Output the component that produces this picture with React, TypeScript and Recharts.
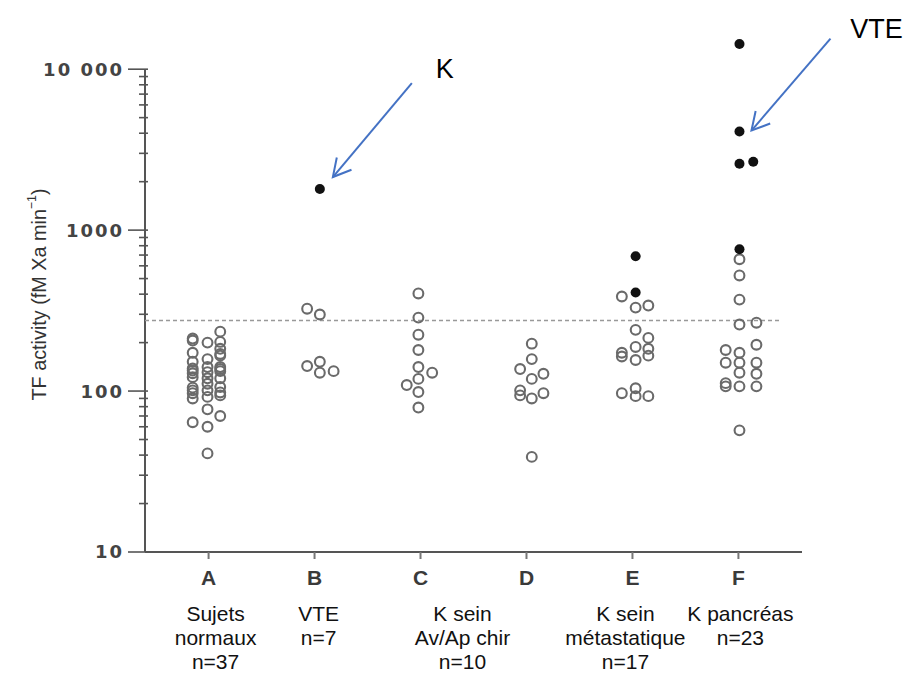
import React from 'react';
import { ScatterChart, Scatter, XAxis, YAxis, ReferenceLine, ReferenceDot } from 'recharts';

const letters = ['A', 'B', 'C', 'D', 'E', 'F'];
const groupLabels = [
  ['Sujets', 'normaux', 'n=37'],
  ['VTE', 'n=7'],
  ['K sein', 'Av/Ap chir', 'n=10'],
  [],
  ['K sein', 'métastatique', 'n=17'],
  ['K pancréas', 'n=23'],
];

// [jitter offset, value] per group
const openA = [
  [-0.15, 212], [-0.15, 206], [-0.15, 173], [-0.15, 152], [-0.15, 138], [-0.15, 134], [-0.15, 129],
  [-0.15, 122], [-0.15, 105], [-0.15, 101], [-0.15, 97], [-0.15, 90], [-0.15, 64],
  [-0.01, 200], [-0.01, 158], [-0.01, 141], [-0.01, 131], [-0.01, 120], [-0.01, 111], [-0.01, 101],
  [-0.01, 92], [-0.01, 77], [-0.01, 60], [-0.01, 41],
  [0.11, 234], [0.11, 202], [0.11, 183], [0.11, 170], [0.11, 166], [0.11, 141], [0.11, 137],
  [0.11, 133], [0.11, 120], [0.11, 106], [0.11, 98], [0.11, 94], [0.11, 70],
];
const openB = [[-0.07, 325], [0.05, 299], [-0.07, 143], [0.05, 152], [0.05, 130], [0.18, 133]];
const filledB = [[0.05, 1800]];
const openC = [
  [-0.02, 404], [-0.02, 286], [-0.02, 224], [-0.02, 180], [-0.02, 141],
  [0.11, 130], [-0.02, 119], [-0.13, 109], [-0.02, 98.6], [-0.02, 79],
];
const openD = [
  [0.05, 197], [0.05, 158], [-0.06, 137], [0.16, 128], [0.05, 119],
  [-0.06, 101], [0.16, 97], [-0.06, 94], [0.05, 90], [0.05, 39],
];
const openE = [
  [-0.1, 387], [0.03, 330], [0.15, 340], [0.03, 240], [0.15, 214], [-0.1, 173], [-0.1, 164],
  [0.03, 188], [0.15, 183], [0.15, 166], [0.03, 156], [0.03, 104], [-0.1, 97], [0.03, 93], [0.15, 93],
];
const filledE = [[0.03, 688], [0.03, 410]];
const openF = [
  [0.01, 659], [0.01, 523], [0.01, 370], [0.01, 259], [0.17, 266], [0.17, 194], [-0.12, 180],
  [0.01, 173], [-0.12, 150], [0.01, 150], [0.17, 150], [0.01, 130], [0.17, 128], [-0.12, 112],
  [-0.12, 107], [0.01, 107], [0.17, 107], [0.01, 57],
];
const filledF = [[0.01, 14330], [0.01, 4098], [0.01, 2585], [0.14, 2661], [0.01, 761]];

const openGroups = [openA, openB, openC, openD, openE, openF];
const filledGroups = [[], filledB, [], [], filledE, filledF];

const threshold = 274;
const majorTicks = [10, 100, 1000, 10000];
const majorLabels = ['10', '100', '1000', '10 000'];
const minorMult = [2, 3, 4, 5, 6, 7, 8, 9];

const yTicks: number[] = [];
majorTicks.forEach((m, i) => {
  yTicks.push(m);
  if (i < majorTicks.length - 1) minorMult.forEach((k) => yTicks.push(m * k));
});

const toPoints = (groups: number[][][]) =>
  groups.flatMap((g, i) => g.map(([dx, v]) => ({ x: i + 1 + dx, y: v })));

const openData = toPoints(openGroups);
const filledData = toPoints(filledGroups);

const labelShift = [7, 4, 42, 0, -7, 2];

const OpenDot = (p: any) => (
  <circle cx={p.cx} cy={p.cy} r={4.9} fill="none" stroke="#6a6a6a" strokeWidth={2.1} />
);
const FilledDot = (p: any) => <circle cx={p.cx} cy={p.cy} r={5} fill="#111" />;

const YTick = (props: any) => {
  const { x, y, payload } = props;
  const idx = majorTicks.indexOf(payload.value);
  const major = idx >= 0;
  return (
    <g>
      <line x1={major ? x - 17 : x - 6} x2={x + 3} y1={y} y2={y} stroke="#555" strokeWidth={1.6} />
      {major && (
        <text x={x - 21} y={y} dy="0.36em" textAnchor="end" fontFamily="DejaVu Sans" fontWeight="bold"
          fontSize={18} letterSpacing={2} fill="#444">
          {majorLabels[idx]}
        </text>
      )}
    </g>
  );
};

const XTick = (props: any) => {
  const { x, y, payload } = props;
  const i = Math.round(payload.value) - 1;
  return (
    <g>
      <line x1={x} x2={x} y1={y} y2={y + 7} stroke="#777" strokeWidth={2} />
      <text x={x} y={y + 33} textAnchor="middle" fontFamily="Liberation Sans" fontWeight="bold"
        fontSize={21} fill="#3a3a3a">
        {letters[i]}
      </text>
      {groupLabels[i].map((t, k) => (
        <text key={k} x={x + labelShift[i]} y={y + 69 + 24 * k} textAnchor="middle"
          fontFamily="Liberation Sans" fontSize={21} fill="#111">
          {t}
        </text>
      ))}
    </g>
  );
};

const YLabel = (props: any) => {
  const vb = props.viewBox || { x: 0, y: 37, width: 145, height: 515 };
  const cx = vb.x + 38;
  const cy = vb.y + vb.height / 2;
  return (
    <text x={cx} y={cy} transform={`rotate(-90, ${cx}, ${cy})`} textAnchor="middle" dominantBaseline="central"
      fontFamily="Liberation Sans" fontSize={21} fill="#333" textLength={212} lengthAdjust="spacingAndGlyphs">
      TF activity (fM Xa min
      <tspan dy={-7} fontSize={13}>−1</tspan>
      <tspan dy={7}>)</tspan>
    </text>
  );
};

const makeArrow = (tip: number[], tail: number[], text: string, tpos: number[]) => (p: any) => {
  const { cx, cy } = p;
  const tx = cx + tip[0];
  const ty = cy + tip[1];
  const lx = cx + tail[0];
  const ly = cy + tail[1];
  const ang = Math.atan2(ly - ty, lx - tx);
  const a = 0.5;
  const len = 20;
  return (
    <g>
      <line x1={lx} y1={ly} x2={tx} y2={ty} stroke="#4472c4" strokeWidth={2} />
      <polyline
        points={`${tx + len * Math.cos(ang + a)},${ty + len * Math.sin(ang + a)} ${tx},${ty} ${tx + len * Math.cos(ang - a)},${ty + len * Math.sin(ang - a)}`}
        fill="none" stroke="#4472c4" strokeWidth={2} />
      <text x={cx + tpos[0]} y={cy + tpos[1]} textAnchor="middle" dominantBaseline="central"
        fontFamily="Liberation Sans" fontSize={27} fill="#000">
        {text}
      </text>
    </g>
  );
};

const App: React.FC = () => (
  <div style={{ position: 'fixed', left: 0, top: 0, background: '#fff' }}>
    <ScatterChart width={913} height={673} margin={{ top: 37, right: 111, bottom: 0, left: 0 }}>
      <XAxis type="number" dataKey="x" domain={[0.4, 6.6]} ticks={[1, 2, 3, 4, 5, 6]} interval={0}
        allowDataOverflow height={121} tickSize={0} tickMargin={0} tick={<XTick />}
        axisLine={{ stroke: '#555', strokeWidth: 2 }} tickLine={false} />
      <YAxis type="number" dataKey="y" scale="log" domain={[10, 15849]} allowDataOverflow ticks={yTicks}
        interval={0} width={145} tickSize={0} tickMargin={0} tick={<YTick />} axisLine={false}
        tickLine={false} label={<YLabel />} />
      <ReferenceLine segment={[{ x: 0.4, y: 10 }, { x: 0.4, y: 10000 }]} stroke="#555" strokeWidth={2} />
      <ReferenceLine segment={[{ x: 0.4, y: threshold }, { x: 6.4, y: threshold }]} stroke="#999"
        strokeWidth={1.5} strokeDasharray="4 3" />
      <Scatter data={openData} shape={OpenDot} isAnimationActive={false} />
      <Scatter data={filledData} shape={FilledDot} isAnimationActive={false} />
      <ReferenceDot x={2.05} y={1800} r={0}
        shape={makeArrow([13, -12], [92, -106], 'K', [125, -120])} />
      <ReferenceDot x={6.01} y={4098} r={0}
        shape={makeArrow([12, -1], [91, -93], 'VTE', [137, -103])} />
    </ScatterChart>
  </div>
);

export default App;
